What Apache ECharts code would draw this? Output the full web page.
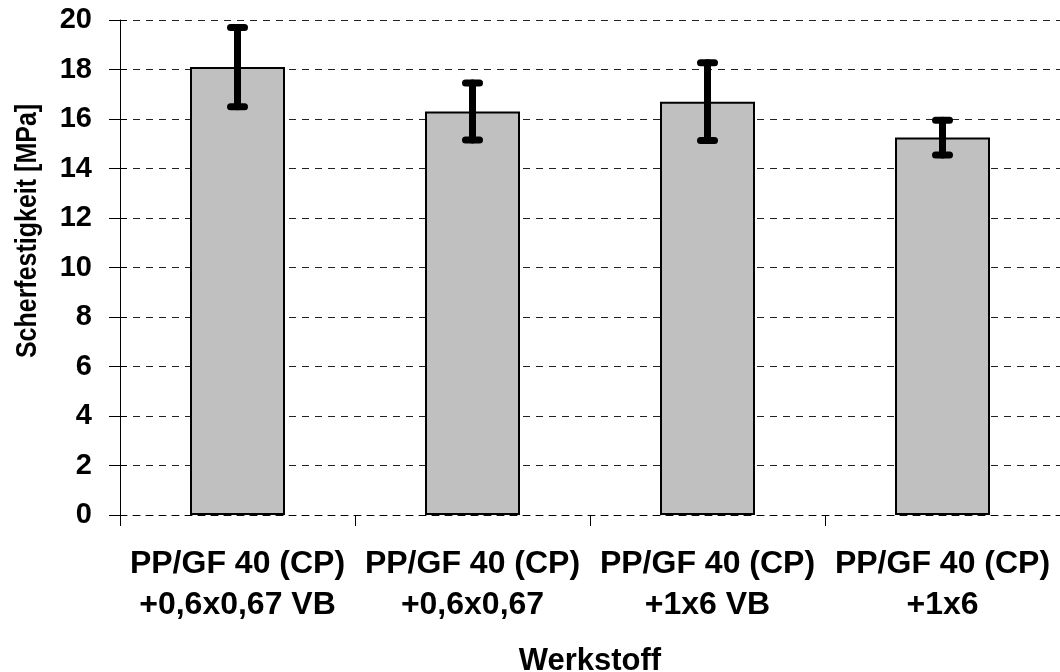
<!DOCTYPE html>
<html>
<head>
<meta charset="utf-8">
<script src="https://cdn.jsdelivr.net/npm/echarts@6/dist/echarts.min.js"></script>
<style>
  html, body { margin: 0; padding: 0; background: #fff; }
  #chart { width: 1060px; height: 672px; }
</style>
</head>
<body>
<div id="chart"></div>
<script>
// Shear strength per material variant, mean with standard deviation
const categories = [
  'PP/GF 40 (CP)\n+0,6x0,67 VB',
  'PP/GF 40 (CP)\n+0,6x0,67',
  'PP/GF 40 (CP)\n+1x6 VB',
  'PP/GF 40 (CP)\n+1x6'
];
const meanValues = [18.1, 16.3, 16.7, 15.25];
const deviations = [1.6, 1.15, 1.57, 0.7];
const yTicks = [0, 2, 4, 6, 8, 10, 12, 14, 16, 18, 20];
const xTitle = 'Werkstoff';
const yTitle = 'Scherfestigkeit [MPa]';

const FONT = "'Liberation Sans', Arial, sans-serif";

const errorData = meanValues.map((m, i) => [i, m - deviations[i], m + deviations[i]]);

const chart = echarts.init(document.getElementById('chart'), null, { renderer: 'canvas' });

chart.setOption({
  animation: false,
  backgroundColor: '#ffffff',
  grid: { left: 120, right: 0, top: 20, bottom: 157, containLabel: false, outerBoundsMode: 'none' },
  xAxis: {
    type: 'category',
    data: categories,
    name: xTitle,
    nameLocation: 'middle',
    nameGap: 131,
    nameTextStyle: { fontFamily: FONT, fontWeight: 'bold', fontSize: 31, color: '#000' },
    axisLine: { show: true, lineStyle: { color: '#000', width: 1, type: [7, 6] } },
    axisTick: { show: true, length: 11, inside: false, lineStyle: { color: '#000', width: 1 } },
    axisLabel: {
      interval: 0,
      margin: 29,
      fontFamily: FONT,
      fontWeight: 'bold',
      fontSize: 32,
      lineHeight: 41,
      color: '#000'
    },
    splitLine: { show: false }
  },
  yAxis: [
    {
      type: 'value',
      min: yTicks[0],
      max: yTicks[yTicks.length - 1],
      interval: 2,
      axisLine: { show: true, lineStyle: { color: '#000', width: 1 } },
      axisTick: { show: true, length: 11, inside: false, lineStyle: { color: '#000', width: 1 } },
      axisLabel: {
        margin: 28,
        fontFamily: FONT,
        fontWeight: 'bold',
        fontSize: 29,
        color: '#000'
      },
      splitLine: { show: true, lineStyle: { color: '#222', width: 1, type: [7, 6] } }
    },
    {
      // inner half of the crossing tick marks on the value axis
      type: 'value',
      position: 'left',
      min: yTicks[0],
      max: yTicks[yTicks.length - 1],
      interval: 2,
      axisLine: { show: false },
      axisTick: { show: true, length: 7, inside: true, lineStyle: { color: '#000', width: 1 } },
      axisLabel: { show: false },
      splitLine: { show: false }
    }
  ],
  graphic: [
    {
      type: 'text',
      x: 28,
      y: 231,
      rotation: Math.PI / 2,
      scaleY: 1.15,
      style: {
        text: yTitle,
        fontFamily: FONT,
        fontWeight: 'bold',
        fontSize: 25,
        fill: '#000',
        align: 'center',
        verticalAlign: 'middle'
      }
    }
  ],
  series: [
    {
      type: 'bar',
      data: meanValues,
      barWidth: 95,
      itemStyle: { color: '#c0c0c0', borderColor: '#000', borderWidth: 2 },
      z: 2
    },
    {
      type: 'custom',
      data: errorData,
      z: 5,
      renderItem: function (params, api) {
        const idx = api.value(0);
        const lo = api.coord([idx, api.value(1)]);
        const hi = api.coord([idx, api.value(2)]);
        const half = 7;
        const style = { stroke: '#000', lineWidth: 7, lineCap: 'round', fill: null };
        return {
          type: 'group',
          children: [
            { type: 'line', shape: { x1: hi[0], y1: hi[1], x2: lo[0], y2: lo[1] }, style: style },
            { type: 'line', shape: { x1: hi[0] - half, y1: hi[1], x2: hi[0] + half, y2: hi[1] }, style: style },
            { type: 'line', shape: { x1: lo[0] - half, y1: lo[1], x2: lo[0] + half, y2: lo[1] }, style: style }
          ]
        };
      }
    }
  ]
});
</script>
</body>
</html>
